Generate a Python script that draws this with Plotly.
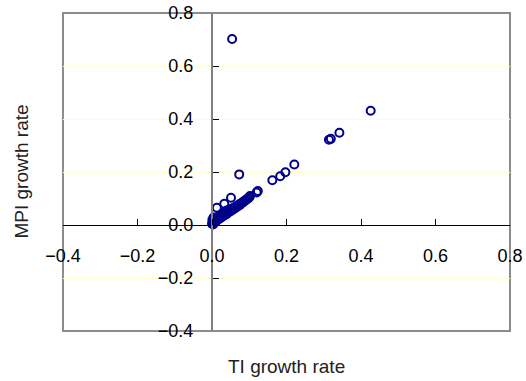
import plotly.graph_objects as go

# TI growth rate (x) and MPI growth rate (y)
ti_growth = [0.054, 0.426, 0.342, 0.319, 0.314, 0.221, 0.197, 0.183, 0.162, 0.123,
             0.120, 0.073, 0.051, 0.033, 0.013, 0.102,
             0.000, 0.002, 0.003, 0.005, 0.006, 0.008, 0.010, 0.012, 0.014, 0.016,
             0.018, 0.020, 0.022, 0.025, 0.027, 0.030, 0.032, 0.035, 0.038, 0.040,
             0.043, 0.046, 0.050, 0.053, 0.056, 0.060, 0.063, 0.066, 0.070, 0.073,
             0.076, 0.080, 0.083, 0.086, 0.090, 0.093, 0.097, 0.100, 0.001, 0.004]
mpi_growth = [0.702, 0.431, 0.348, 0.325, 0.322, 0.228, 0.199, 0.184, 0.169, 0.128,
              0.123, 0.191, 0.103, 0.080, 0.065, 0.109,
              0.005, 0.010, 0.002, 0.015, 0.008, 0.020, 0.012, 0.025, 0.018, 0.030,
              0.022, 0.035, 0.026, 0.040, 0.030, 0.045, 0.036, 0.050, 0.040, 0.055,
              0.046, 0.058, 0.052, 0.062, 0.058, 0.066, 0.064, 0.072, 0.071, 0.078,
              0.077, 0.084, 0.085, 0.090, 0.093, 0.097, 0.100, 0.105, 0.020, 0.028]

x_ticks = [-0.4, -0.2, 0.0, 0.2, 0.4, 0.6, 0.8]
y_ticks = [-0.4, -0.2, 0.0, 0.2, 0.4, 0.6, 0.8]
x_title = "TI growth rate"
y_title = "MPI growth rate"

x_range = [-0.4, 0.8]
y_range = [-0.4, 0.8]
# paper position of the zero crossings
x_zero_pos = (0 - x_range[0]) / (x_range[1] - x_range[0])
y_zero_pos = (0 - y_range[0]) / (y_range[1] - y_range[0])

font_family = "Liberation Sans, Arial, sans-serif"

fig = go.Figure()
fig.add_trace(go.Scatter(
    x=ti_growth, y=mpi_growth, mode="markers",
    marker=dict(symbol="circle-open", size=8, color="#00008B",
                line=dict(width=2, color="#00008B")),
    showlegend=False, hoverinfo="skip"))

fig.update_layout(
    width=526, height=381,
    margin=dict(l=63, r=16, t=13, b=50, autoexpand=False),
    paper_bgcolor="white", plot_bgcolor="white",
    font=dict(family=font_family, size=18, color="black"),
    xaxis=dict(
        range=x_range, tickvals=x_ticks, tickformat=".1f",
        anchor="free", position=y_zero_pos, domain=[0, 1],
        showline=True, linecolor="black", linewidth=1,
        ticks="inside", ticklen=6, tickcolor="black", tickwidth=1,
        ticklabelstandoff=14, automargin=False,
        showgrid=False, zeroline=False,
        tickfont=dict(size=18),
    ),
    yaxis=dict(
        range=y_range, tickvals=y_ticks, tickformat=".1f",
        anchor="free", position=x_zero_pos, domain=[0, 1],
        showline=True, linecolor="#808080", linewidth=2,
        ticks="inside", ticklen=6, tickcolor="black", tickwidth=1,
        ticklabelstandoff=14, automargin=False,
        showgrid=True, gridcolor="#FFFFD0", gridwidth=1,
        zeroline=False,
        tickfont=dict(size=18),
    ),
    shapes=[dict(type="rect", xref="paper", yref="paper", x0=0, x1=1, y0=0, y1=1,
                 line=dict(color="#8C8C8C", width=2), layer="below")],
    annotations=[
        dict(text=x_title, xref="paper", yref="paper", x=0.5, y=0, yshift=-23,
             xanchor="center", yanchor="top", showarrow=False,
             font=dict(size=19, color="#222222")),
        dict(text=y_title, xref="paper", yref="paper", x=0, xshift=-30, y=0.5,
             xanchor="right", yanchor="middle", textangle=-90, showarrow=False,
             font=dict(size=19, color="#222222")),
    ],
)

fig.write_html("out.html")
